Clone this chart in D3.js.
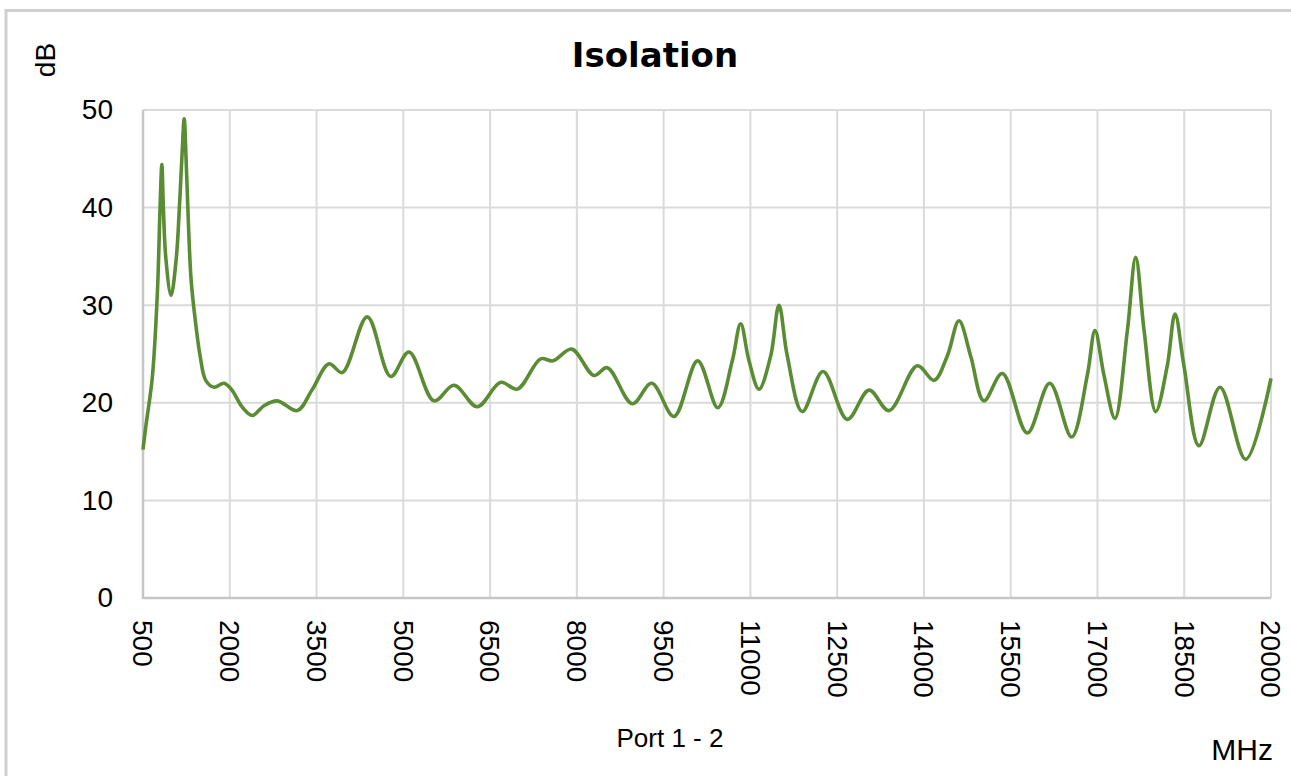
<!DOCTYPE html>
<html>
<head>
<meta charset="utf-8">
<script src="https://cdn.jsdelivr.net/npm/d3@7"></script>
<style>
  html, body { margin: 0; padding: 0; background: #fff; }
  svg { display: block; }
</style>
</head>
<body>
<svg id="chart" width="1291" height="776"></svg>
<script>
// ---- data ----
const title = "Isolation";
const seriesName = "Port 1 - 2";
const yUnit = "dB";
const xUnit = "MHz";
const xTicks = [500, 2000, 3500, 5000, 6500, 8000, 9500, 11000, 12500, 14000, 15500, 17000, 18500, 20000];
const yTicks = [0, 10, 20, 30, 40, 50];
const freqMHz = [500, 547, 661, 750, 795, 826, 852, 895, 985, 1075, 1135, 1178, 1212, 1246, 1290, 1333, 1411, 1485, 1584, 1727,
  1900, 2038, 2211, 2389, 2592, 2822, 3167, 3421, 3715, 3945, 4377, 4782, 5098, 5530, 5876, 6279, 6683, 6971, 7375, 7588,
  7911, 8296, 8527, 8959, 9294, 9679, 10088, 10436, 10687, 10832, 10976, 11149, 11351, 11494, 11638, 11897, 12256, 12676,
  13051, 13396, 13885, 14174, 14404, 14606, 14808, 15038, 15355, 15787, 16175, 16553, 16824, 16957, 17113, 17303, 17517,
  17661, 17806, 18007, 18207, 18341, 18495, 18755, 19118, 19562, 20000];
const isolationDb = [15.2, 17.5, 22.6, 31.5, 40.0, 44.4, 40.0, 34.8, 31.0, 34.8, 40.7, 45.8, 49.1, 44.8, 37.6, 32.5, 28.1, 24.9, 22.3, 21.6,
  22.0, 21.3, 19.6, 18.7, 19.7, 20.2, 19.2, 21.3, 24.0, 23.1, 28.8, 22.7, 25.2, 20.2, 21.8, 19.6, 22.1, 21.4, 24.5, 24.3,
  25.5, 22.8, 23.6, 19.9, 22.0, 18.6, 24.3, 19.5, 24.3, 28.1, 24.3, 21.4, 24.8, 30.0, 24.8, 19.1, 23.2, 18.3,
  21.3, 19.2, 23.8, 22.3, 24.8, 28.4, 24.8, 20.2, 23.0, 16.9, 22.0, 16.5, 22.8, 27.4, 22.8, 18.4, 27.4,
  34.9, 27.4, 19.1, 23.8, 29.1, 23.8, 15.6, 21.6, 14.2, 22.5];

// ---- layout ----
const svg = d3.select("#chart");
const plot = { left: 143, right: 1271, top: 110, bottom: 598 };
const x = d3.scaleLinear().domain([500, 20000]).range([plot.left, plot.right]);
const y = d3.scaleLinear().domain([0, 50]).range([plot.bottom, plot.top]);

// outer frame
svg.append("rect")
  .attr("x", 6).attr("y", 10.5).attr("width", 1400).attr("height", 900)
  .attr("fill", "#fff").attr("stroke", "#d0d0d0").attr("stroke-width", 3);

// grid
const grid = svg.append("g");
grid.selectAll(".vg").data(xTicks).join("line")
  .attr("x1", d => x(d)).attr("x2", d => x(d))
  .attr("y1", plot.top).attr("y2", plot.bottom)
  .attr("stroke", "#dadada").attr("stroke-width", 2);
grid.selectAll(".hg").data(yTicks).join("line")
  .attr("x1", plot.left).attr("x2", plot.right)
  .attr("y1", d => y(d)).attr("y2", d => y(d))
  .attr("stroke", "#dadada").attr("stroke-width", 2);
// axis lines
svg.append("line").attr("x1", plot.left).attr("x2", plot.left).attr("y1", plot.top).attr("y2", plot.bottom + 1)
  .attr("stroke", "#c6c6c6").attr("stroke-width", 2.5);
svg.append("line").attr("x1", plot.left).attr("x2", plot.right).attr("y1", plot.bottom).attr("y2", plot.bottom)
  .attr("stroke", "#c6c6c6").attr("stroke-width", 2.5);

// axes
const tickFont = "'Liberation Sans', Arial, sans-serif";
const xAxis = svg.append("g").attr("transform", `translate(0,${plot.bottom})`)
  .call(d3.axisBottom(x).tickValues(xTicks).tickSize(0).tickFormat(d3.format("d")));
xAxis.select(".domain").remove();
xAxis.selectAll("text")
  .attr("transform", "rotate(90)")
  .attr("x", 22).attr("y", 0).attr("dy", "0.36em")
  .style("text-anchor", "start")
  .style("font-family", tickFont).style("font-size", "28px").attr("fill", "#000");

const yAxis = svg.append("g").attr("transform", `translate(${plot.left},0)`)
  .call(d3.axisLeft(y).tickValues(yTicks).tickSize(0).tickPadding(30));
yAxis.select(".domain").remove();
yAxis.selectAll("text")
  .style("font-family", tickFont).style("font-size", "28px").attr("fill", "#000");

// line
const pts = freqMHz.map((f, i) => [f, isolationDb[i]]);
svg.append("path")
  .datum(pts)
  .attr("fill", "none")
  .attr("stroke", "#5a8c34")
  .attr("stroke-width", 3.6)
  .attr("stroke-linejoin", "round")
  .attr("d", d3.line().x(d => x(d[0])).y(d => y(d[1])).curve(d3.curveCatmullRom.alpha(0.5)));

// texts
svg.append("text").attr("x", 655).attr("y", 67).attr("text-anchor", "middle")
  .style("font-family", "'DejaVu Sans', Verdana, sans-serif").style("font-weight", "bold").style("font-size", "34px")
  .text(title);
svg.append("text").attr("transform", "translate(55,60) rotate(-90)").attr("text-anchor", "middle")
  .style("font-family", tickFont).style("font-size", "28px").text(yUnit);
svg.append("text").attr("x", 670).attr("y", 747).attr("text-anchor", "middle")
  .style("font-family", tickFont).style("font-size", "26px").text(seriesName);
svg.append("text").attr("x", 1273).attr("y", 760).attr("text-anchor", "end")
  .style("font-family", tickFont).style("font-size", "30px").text(xUnit);
</script>
</body>
</html>
